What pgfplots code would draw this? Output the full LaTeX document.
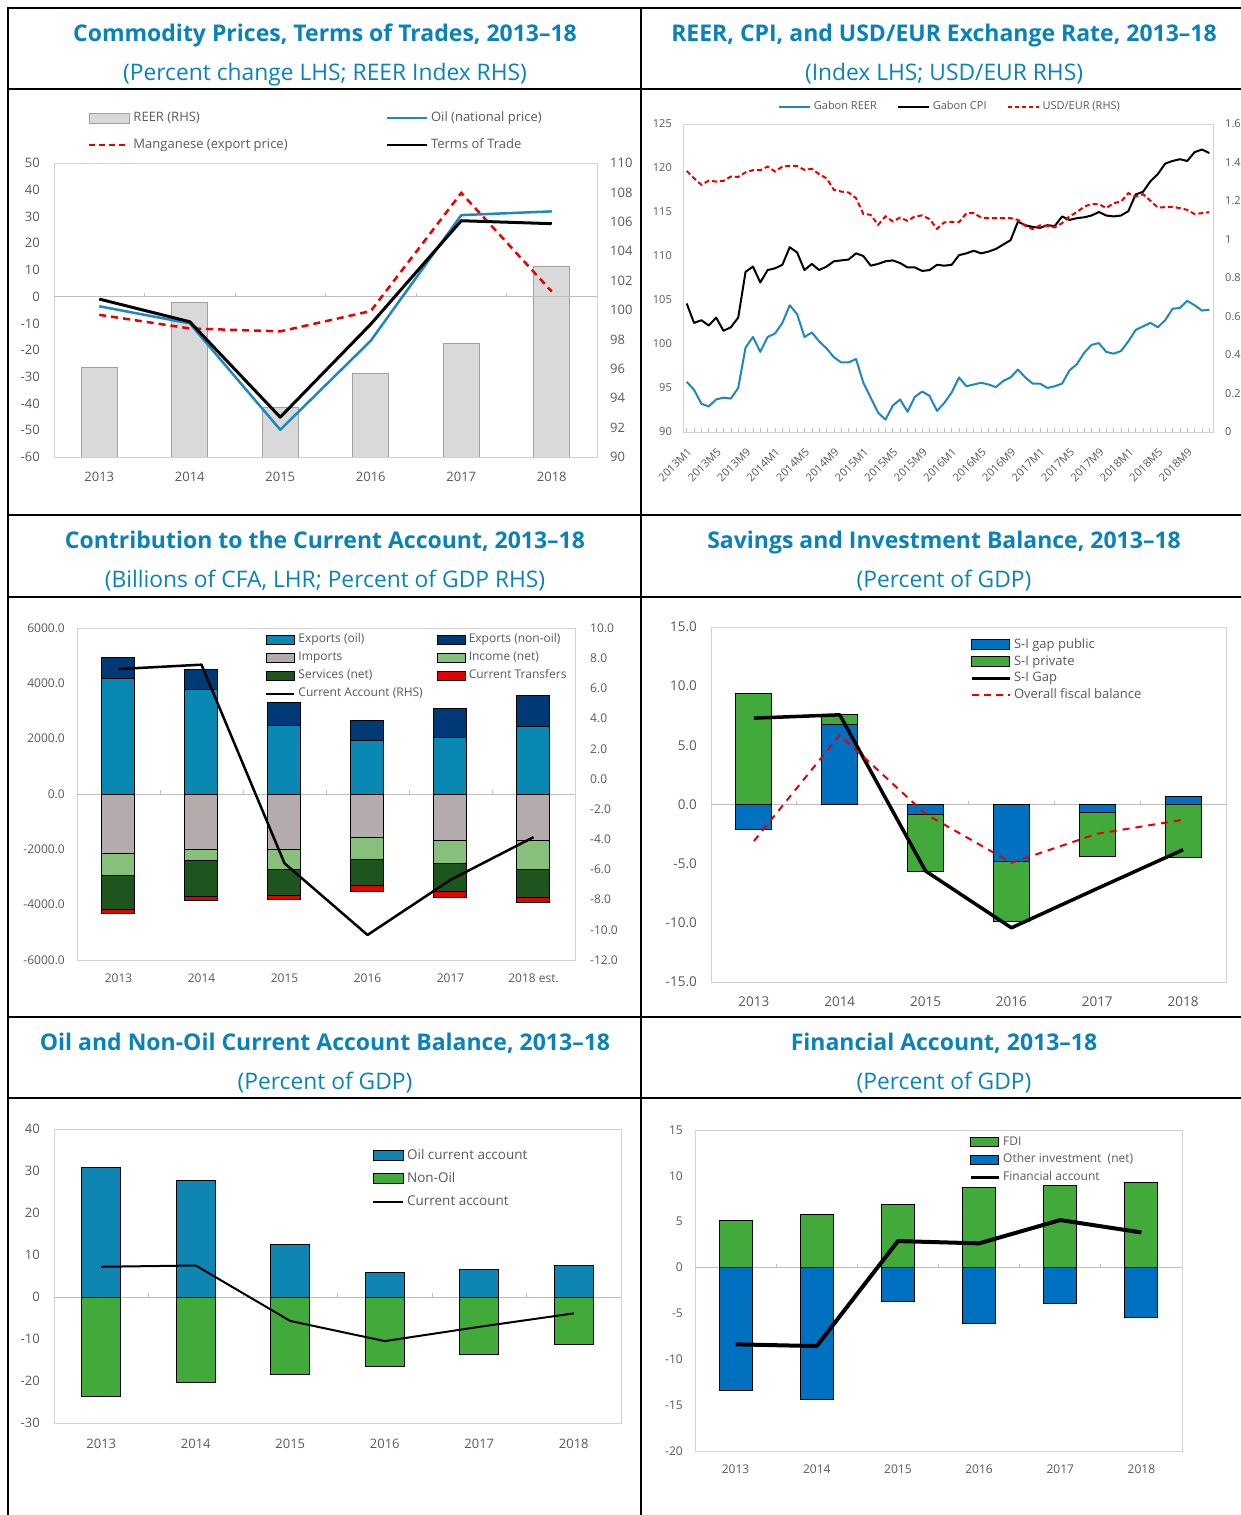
\documentclass[border=0pt]{standalone}
\usepackage{fontspec}
\setmainfont{Open Sans}
\usepackage{pgfplots}
\usepackage{pgfplotstable}
\pgfplotsset{compat=1.18}

\definecolor{titleblue}{RGB}{10,130,185}
\definecolor{tickgray}{RGB}{89,89,89}
\definecolor{boxgray}{RGB}{210,210,210}
\definecolor{zerogray}{RGB}{190,190,190}
\definecolor{reergray}{RGB}{217,217,217}
\definecolor{reeredge}{RGB}{160,160,160}
\definecolor{oilblue}{RGB}{30,135,190}
\definecolor{ddred}{RGB}{230,0,0}
\definecolor{expoil}{RGB}{10,136,180}
\definecolor{expnon}{RGB}{0,58,118}
\definecolor{impgray}{RGB}{180,172,172}
\definecolor{incgreen}{RGB}{134,192,122}
\definecolor{servgreen}{RGB}{30,84,30}
\definecolor{pubblue}{RGB}{0,112,192}
\definecolor{privgreen}{RGB}{66,170,58}
\definecolor{oilca}{RGB}{14,133,178}

\newcommand\fs[1]{\fontsize{#1pt}{#1pt}\selectfont}
\newcommand\legpatch[3]{\addlegendimage{legend image code/.code={\draw[#1] (0pt,-#3) rectangle (#2,#3);}}}
\newcommand\legline[2]{\addlegendimage{legend image code/.code={\draw[#1] (0pt,0pt) -- (#2,0pt);}}}

\pgfplotsset{
  panel/.style={scale only axis, anchor=north west, clip=true,
    /pgf/number format/assume math mode=true,
    tick label style={text=tickgray, inner sep=0pt},
    major tick length=0pt, minor tick length=0pt,
    xtick style={draw=none}, ytick style={draw=none},
    axis line style={draw=boxgray, line width=0.8pt},
    legend cell align=left},
  catx/.style={xmin=-0.5, xmax=5.5, xtick={0,1,2,3,4,5}},
  rhs/.style={axis y line*=right, hide x axis, axis line style={draw=none}},
}

\pgfplotstableread{
i reer cpi usd
0 95.7 104.6 1.356
1 94.8 102.4 1.318
2 93.2 102.7 1.284
3 92.9 102.1 1.306
4 93.7 103.0 1.301
5 93.9 101.5 1.305
6 93.8 101.9 1.327
7 95.0 103.0 1.325
8 99.6 108.2 1.349
9 100.8 108.8 1.360
10 99.1 107.0 1.360
11 100.8 108.4 1.379
12 101.2 108.6 1.353
13 102.4 109.0 1.379
14 104.4 111.0 1.382
15 103.4 110.4 1.382
16 100.8 108.4 1.362
17 101.3 109.1 1.367
18 100.3 108.4 1.339
19 99.5 108.8 1.318
20 98.5 109.4 1.258
21 97.9 109.5 1.249
22 97.9 109.6 1.244
23 98.3 110.3 1.215
24 95.6 110.0 1.133
25 93.9 108.9 1.128
26 92.2 109.1 1.076
27 91.4 109.4 1.120
28 93.0 109.5 1.094
29 93.7 109.2 1.114
30 92.3 108.7 1.097
31 94.0 108.7 1.120
32 94.6 108.3 1.125
33 94.1 108.4 1.106
34 92.4 109.0 1.056
35 93.3 108.9 1.089
36 94.5 109.0 1.092
37 96.2 110.1 1.090
38 95.2 110.3 1.137
39 95.4 110.6 1.137
40 95.6 110.3 1.114
41 95.4 110.5 1.111
42 95.1 110.8 1.111
43 95.8 111.3 1.111
44 96.2 111.8 1.111
45 97.1 113.9 1.102
46 96.2 113.5 1.071
47 95.5 113.3 1.054
48 95.5 113.2 1.073
49 95.0 113.5 1.071
50 95.2 113.4 1.063
51 95.5 114.5 1.085
52 97.0 114.1 1.120
53 97.7 114.3 1.142
54 99.0 114.4 1.171
55 99.9 114.6 1.184
56 100.1 115.0 1.184
57 99.1 114.6 1.163
58 98.9 114.5 1.189
59 99.2 114.6 1.197
60 100.3 115.1 1.241
61 101.6 117.0 1.223
62 102.0 117.3 1.235
63 102.4 118.5 1.201
64 101.9 119.3 1.166
65 102.7 120.5 1.168
66 104.0 120.8 1.170
67 104.1 121.0 1.163
68 104.9 120.8 1.154
69 104.4 121.8 1.132
70 103.8 122.1 1.137
71 103.9 121.7 1.142
}\monthly

\begin{document}
\begin{tikzpicture}
\useasboundingbox (0pt,0pt) rectangle (1241pt,-1515pt);

% ---------------- Titles ----------------
\begin{scope}[every node/.style={anchor=base, text=titleblue}]
\node[font=\bfseries\fs{23}] at (325pt,-41pt) {Commodity Prices, Terms of Trades, 2013–18};
\node[font=\fs{22.8}] at (325pt,-80pt) {(Percent change LHS; REER Index RHS)};
\node[font=\bfseries\fs{23}] at (944pt,-41pt) {REER, CPI, and USD/EUR Exchange Rate, 2013–18};
\node[font=\fs{22.8}] at (944pt,-80pt) {(Index LHS; USD/EUR RHS)};
\node[font=\bfseries\fs{23}] at (325pt,-548pt) {Contribution to the Current Account, 2013–18};
\node[font=\fs{22.8}] at (325pt,-587pt) {(Billions of CFA, LHR; Percent of GDP RHS)};
\node[font=\bfseries\fs{23}] at (944pt,-548pt) {Savings and Investment Balance, 2013–18};
\node[font=\fs{22.8}] at (944pt,-587pt) {(Percent of GDP)};
\node[font=\bfseries\fs{23}] at (325pt,-1050pt) {Oil and Non-Oil Current Account Balance, 2013–18};
\node[font=\fs{22.8}] at (325pt,-1089pt) {(Percent of GDP)};
\node[font=\bfseries\fs{23}] at (944pt,-1050pt) {Financial Account, 2013–18};
\node[font=\fs{22.8}] at (944pt,-1089pt) {(Percent of GDP)};
\end{scope}

% ---------------- Panel 1: commodity prices ----------------
\begin{axis}[panel, catx, rhs, at={(54pt,-163pt)}, width=543pt, height=294pt,
  ymin=90, ymax=110, ytick={90,92,94,96,98,100,102,104,106,108,110},
  yticklabels={90,92,94,96,98,100,102,104,106,108,110},
  yticklabel style={font=\fs{13}, xshift=13pt}]
\addplot[ybar, bar width=36pt, bar shift=0pt, fill=reergray, draw=reeredge, line width=0.8pt, forget plot]
  coordinates {(0,96.1) (1,100.5) (2,93.4) (3,95.7) (4,97.7) (5,103.0)};
\end{axis}
\begin{axis}[panel, catx, at={(54pt,-163pt)}, width=543pt, height=294pt,
  ymin=-60, ymax=50, ytick={-60,-50,-40,-30,-20,-10,0,10,20,30,40,50},
  yticklabels={-60,-50,-40,-30,-20,-10,0,10,20,30,40,50},
  yticklabel style={font=\fs{13}, xshift=-14pt},
  xticklabels={2013,2014,2015,2016,2017,2018},
  xticklabel style={font=\fs{13}, anchor=north, yshift=-15pt},
  legend columns=2,
  legend style={draw=none, fill=none, inner sep=0pt, outer sep=0pt, text=tickgray, font=\fs{13},
    at={(0.0626,1.175)}, anchor=north west, row sep=14pt,
    nodes={inner xsep=3pt, inner ysep=0pt, text height=10pt, text depth=3pt},
    /tikz/every even column/.append style={column sep=95pt}}]
\draw[zerogray, line width=0.8pt] (axis cs:-0.5,0) -- (axis cs:5.5,0);
\pgfplotsinvokeforeach{0.5,1.5,2.5,3.5,4.5}{\draw[zerogray, line width=0.8pt] (axis cs:#1,0) -- ++(0pt,4pt);}
\addplot[ddred, line width=2.5pt, dash pattern=on 7pt off 5pt, forget plot]
  coordinates {(0,-6.8) (1,-11.9) (2,-13.0) (3,-5.4) (4,38.8) (5,1.9)};
\addplot[oilblue, line width=2.5pt, line join=round, forget plot]
  coordinates {(0,-3.6) (1,-10.0) (2,-49.8) (3,-16.5) (4,30.5) (5,31.9)};
\addplot[black, line width=3pt, line join=round, forget plot]
  coordinates {(0,-0.9) (1,-9.4) (2,-45.1) (3,-10.3) (4,28.4) (5,27.3)};
\legpatch{fill=reergray, draw=reeredge, line width=0.8pt}{40pt}{5pt}\addlegendentry{REER (RHS)}
\legline{oilblue, line width=2.5pt}{40pt}\addlegendentry{Oil (national price)}
\legline{ddred, line width=2.5pt, dash pattern=on 6pt off 4pt}{40pt}\addlegendentry{Manganese (export price)}
\legline{black, line width=2.5pt}{40pt}\addlegendentry{Terms of Trade}
\end{axis}

% ---------------- Panel 2: REER, CPI, USD/EUR ----------------
\begin{axis}[panel, at={(683pt,-124pt)}, width=530pt, height=308pt,
  xmin=-0.5, xmax=71.5, ymin=90, ymax=125,
  ytick={90,95,100,105,110,115,120,125}, yticklabels={90,95,100,105,110,115,120,125},
  yticklabel style={font=\fs{11}, xshift=-11pt},
  xtick={0,4,...,68},
  xticklabels={2013M1,2013M5,2013M9,2014M1,2014M5,2014M9,2015M1,2015M5,2015M9,2016M1,2016M5,2016M9,2017M1,2017M5,2017M9,2018M1,2018M5,2018M9},
  minor xtick={0,1,...,71},
  xtick pos=left, tick align=inside, major tick length=4pt, minor tick length=4pt,
  xtick style={draw=zerogray, line width=0.6pt}, minor tick style={draw=zerogray, line width=0.6pt},
  xticklabel style={font=\fs{11}, xshift=3pt, yshift=-18pt, rotate=45, anchor=east}]
\addplot[oilblue, line width=2pt, line join=round, forget plot] table[x=i, y=reer] {\monthly};
\addplot[black, line width=2pt, line join=round, forget plot] table[x=i, y=cpi] {\monthly};
\end{axis}
\begin{axis}[panel, rhs, at={(683pt,-124pt)}, width=530pt, height=308pt,
  xmin=-0.5, xmax=71.5, ymin=0, ymax=1.6,
  ytick={0,0.2,0.4,0.6,0.8,1,1.2,1.4,1.6}, yticklabels={0,0.2,0.4,0.6,0.8,1,1.2,1.4,1.6},
  yticklabel style={font=\fs{11}, xshift=12pt},
  legend columns=3,
  legend style={draw=none, fill=none, inner sep=0pt, outer sep=0pt, text=tickgray, font=\fs{11},
    at={(0.179,1.055)}, anchor=west,
    nodes={inner xsep=3pt, inner ysep=0pt, text height=8pt, text depth=2.5pt},
    /tikz/every even column/.append style={column sep=17pt}}]
\addplot[ddred, line width=2pt, dash pattern=on 5pt off 3pt, forget plot] table[x=i, y=usd] {\monthly};
\legline{oilblue, line width=2pt}{31pt}\addlegendentry{Gabon REER}
\legline{black, line width=2pt}{31pt}\addlegendentry{Gabon CPI}
\legline{ddred, line width=2pt, dash pattern=on 4pt off 3pt}{31pt}\addlegendentry{USD/EUR (RHS)}
\end{axis}

% ---------------- Panel 3: contribution to CA ----------------
\begin{axis}[panel, catx, at={(77pt,-628pt)}, width=498pt, height=332pt,
  ymin=-6000, ymax=6000, ytick={-6000,-4000,-2000,0,2000,4000,6000},
  yticklabels={-6000.0,-4000.0,-2000.0,0.0,2000.0,4000.0,6000.0},
  yticklabel style={font=\fs{12}, xshift=-12pt},
  xticklabels={2013,2014,2015,2016,2017,2018 est.},
  xticklabel style={font=\fs{12}, anchor=north, yshift=-13.5pt}]
\draw[zerogray, line width=0.8pt] (axis cs:-0.5,0) -- (axis cs:5.5,0);
\pgfplotsinvokeforeach{0.5,1.5,2.5,3.5,4.5}{\draw[zerogray, line width=0.8pt] (axis cs:#1,0) -- ++(0pt,4pt);}
% positive stack: exports (non-oil) on top of exports (oil) -- cumulative tops
\addplot[ybar, bar width=33pt, bar shift=0pt, fill=expnon, draw=black, line width=1pt, forget plot]
  coordinates {(0,4945) (1,4510) (2,3317) (3,2641) (4,3099) (5,3558)};
\addplot[ybar, bar width=33pt, bar shift=0pt, fill=expoil, draw=black, line width=1pt, forget plot]
  coordinates {(0,4185) (1,3787) (2,2484) (3,1930) (4,2050) (5,2436)};
% negative stack: imports, income, services, transfers -- cumulative bottoms
\addplot[ybar, bar width=33pt, bar shift=0pt, fill=ddred, draw=black, line width=1pt, forget plot]
  coordinates {(0,-4317) (1,-3859) (2,-3799) (3,-3510) (4,-3727) (5,-3920)};
\addplot[ybar, bar width=33pt, bar shift=0pt, fill=servgreen, draw=black, line width=1pt, forget plot]
  coordinates {(0,-4173) (1,-3714) (2,-3654) (3,-3317) (4,-3534) (5,-3727)};
\addplot[ybar, bar width=33pt, bar shift=0pt, fill=incgreen, draw=black, line width=1pt, forget plot]
  coordinates {(0,-2943) (1,-2388) (2,-2713) (3,-2352) (4,-2520) (5,-2738)};
\addplot[ybar, bar width=33pt, bar shift=0pt, fill=impgray, draw=black, line width=1pt, forget plot]
  coordinates {(0,-2159) (1,-2002) (2,-2002) (3,-1580) (4,-1688) (5,-1688)};
\end{axis}
\begin{axis}[panel, catx, rhs, at={(77pt,-628pt)}, width=498pt, height=332pt,
  ymin=-12, ymax=10, ytick={-12,-10,-8,-6,-4,-2,0,2,4,6,8,10},
  yticklabels={-12.0,-10.0,-8.0,-6.0,-4.0,-2.0,0.0,2.0,4.0,6.0,8.0,10.0},
  yticklabel style={font=\fs{12}, xshift=15pt},
  legend columns=2,
  legend style={draw=none, fill=none, inner sep=0pt, outer sep=0pt, text=tickgray, font=\fs{12},
    at={(0.3775,0.982)}, anchor=north west, row sep=6pt,
    nodes={inner xsep=3pt, inner ysep=0pt, text height=9pt, text depth=3pt},
    /tikz/every even column/.append style={column sep=11pt}}]
\addplot[black, line width=2.5pt, line join=round, forget plot]
  coordinates {(0,7.28) (1,7.57) (2,-5.59) (3,-10.34) (4,-6.69) (5,-3.86)};
\legpatch{fill=expoil, draw=black, line width=1pt}{28pt}{4.5pt}\addlegendentry{Exports (oil)}
\legpatch{fill=expnon, draw=black, line width=1pt}{28pt}{4.5pt}\addlegendentry{Exports (non-oil)}
\legpatch{fill=impgray, draw=black, line width=1pt}{28pt}{4.5pt}\addlegendentry{Imports}
\legpatch{fill=incgreen, draw=black, line width=1pt}{28pt}{4.5pt}\addlegendentry{Income (net)}
\legpatch{fill=servgreen, draw=black, line width=1pt}{28pt}{4.5pt}\addlegendentry{Services (net)}
\legpatch{fill=ddred, draw=black, line width=1pt}{28pt}{4.5pt}\addlegendentry{Current Transfers}
\legline{black, line width=2.5pt}{28pt}\addlegendentry{Current Account (RHS)}
\end{axis}

% ---------------- Panel 4: S-I balance ----------------
\begin{axis}[panel, catx, at={(711pt,-627pt)}, width=515pt, height=355pt,
  ymin=-15, ymax=15, ytick={-15,-10,-5,0,5,10,15},
  yticklabels={-15.0,-10.0,-5.0,0.0,5.0,10.0,15.0},
  yticklabel style={font=\fs{13.5}, xshift=-14pt},
  xticklabels={2013,2014,2015,2016,2017,2018},
  xticklabel style={font=\fs{13.5}, anchor=north, yshift=-15pt},
  legend style={draw=none, fill=none, inner sep=0pt, outer sep=0pt, text=tickgray, font=\fs{13},
    at={(0.503,0.968)}, anchor=north west, row sep=3.7pt,
    nodes={inner xsep=3pt, inner ysep=0pt, text height=10pt, text depth=3pt}}]
\draw[zerogray, line width=0.8pt] (axis cs:-0.5,0) -- (axis cs:5.5,0);
\pgfplotsinvokeforeach{0.5,1.5,2.5,3.5,4.5}{\draw[zerogray, line width=0.8pt] (axis cs:#1,0) -- ++(0pt,4pt);}
% private S-I stacked beyond public S-I -- cumulative ends
\addplot[ybar, bar width=36pt, bar shift=0pt, fill=privgreen, draw=black, line width=1pt, forget plot]
  coordinates {(0,9.38) (1,7.58) (2,-5.62) (3,-9.86) (4,-4.38) (5,-4.52)};
\addplot[ybar, bar width=36pt, bar shift=0pt, fill=pubblue, draw=black, line width=1pt, forget plot]
  coordinates {(0,-2.13) (1,6.80) (2,-0.87) (3,-4.80) (4,-0.70) (5,0.67)};
\addplot[black, line width=3.5pt, line join=round, forget plot]
  coordinates {(0,7.30) (1,7.58) (2,-5.62) (3,-10.42) (4,-7.1) (5,-3.82)};
\addplot[ddred, line width=2pt, dash pattern=on 7pt off 6pt, forget plot]
  coordinates {(0,-3.09) (1,5.87) (2,-0.8) (3,-4.92) (4,-2.47) (5,-1.29)};
\legpatch{fill=pubblue, draw=black, line width=1pt}{38pt}{5pt}\addlegendentry{S-I gap public}
\legpatch{fill=privgreen, draw=black, line width=1pt}{38pt}{5pt}\addlegendentry{S-I private}
\legline{black, line width=3pt}{38pt}\addlegendentry{S-I Gap}
\legline{ddred, line width=2pt, dash pattern=on 7pt off 5pt}{38pt}\addlegendentry{Overall fiscal balance}
\end{axis}

% ---------------- Panel 5: oil / non-oil CA ----------------
\begin{axis}[panel, catx, at={(54pt,-1129pt)}, width=567pt, height=294pt,
  ymin=-30, ymax=40, ytick={-30,-20,-10,0,10,20,30,40},
  yticklabels={-30,-20,-10,0,10,20,30,40},
  yticklabel style={font=\fs{13}, xshift=-14pt},
  xticklabels={2013,2014,2015,2016,2017,2018},
  xticklabel style={font=\fs{13}, anchor=north, yshift=-16pt},
  legend style={draw=none, fill=none, inner sep=0pt, outer sep=0pt, text=tickgray, font=\fs{13.5},
    at={(0.561,0.932)}, anchor=north west, row sep=9.5pt,
    nodes={inner xsep=3pt, inner ysep=0pt, text height=10pt, text depth=3.5pt}}]
\draw[zerogray, line width=0.8pt] (axis cs:-0.5,0) -- (axis cs:5.5,0);
\pgfplotsinvokeforeach{0.5,1.5,2.5,3.5,4.5}{\draw[zerogray, line width=0.8pt] (axis cs:#1,0) -- ++(0pt,4pt);}
\addplot[ybar, bar width=39pt, bar shift=0pt, fill=oilca, draw=black, line width=1pt, forget plot]
  coordinates {(0,30.9) (1,27.8) (2,12.6) (3,5.9) (4,6.6) (5,7.4)};
\addplot[ybar, bar width=39pt, bar shift=0pt, fill=privgreen, draw=black, line width=1pt, forget plot]
  coordinates {(0,-23.8) (1,-20.4) (2,-18.5) (3,-16.5) (4,-13.8) (5,-11.4)};
\addplot[black, line width=2pt, line join=round, forget plot]
  coordinates {(0,7.2) (1,7.5) (2,-5.7) (3,-10.5) (4,-7.1) (5,-3.9)};
\legpatch{fill=oilca, draw=black, line width=1pt}{30pt}{5pt}\addlegendentry{Oil current account}
\legpatch{fill=privgreen, draw=black, line width=1pt}{30pt}{5pt}\addlegendentry{Non-Oil}
\legline{black, line width=2pt}{30pt}\addlegendentry{Current account}
\end{axis}

% ---------------- Panel 6: financial account ----------------
\begin{axis}[panel, catx, at={(695pt,-1130pt)}, width=487pt, height=321pt,
  ymin=-20, ymax=15, ytick={-20,-15,-10,-5,0,5,10,15},
  yticklabels={-20,-15,-10,-5,0,5,10,15},
  yticklabel style={font=\fs{12}, xshift=-12pt},
  xticklabels={2013,2014,2015,2016,2017,2018},
  xticklabel style={font=\fs{12}, anchor=north, yshift=-13.5pt},
  legend style={draw=none, fill=none, inner sep=0pt, outer sep=0pt, text=tickgray, font=\fs{12},
    at={(0.563,0.981)}, anchor=north west, row sep=5.5pt,
    nodes={inner xsep=3pt, inner ysep=0pt, text height=9pt, text depth=3pt}}]
\draw[zerogray, line width=0.8pt] (axis cs:-0.5,0) -- (axis cs:5.5,0);
\pgfplotsinvokeforeach{0.5,1.5,2.5,3.5,4.5}{\draw[zerogray, line width=0.8pt] (axis cs:#1,0) -- ++(0pt,4pt);}
\addplot[ybar, bar width=33pt, bar shift=0pt, fill=privgreen, draw=black, line width=1pt, forget plot]
  coordinates {(0,5.1) (1,5.76) (2,6.86) (3,8.75) (4,9.0) (5,9.25)};
\addplot[ybar, bar width=33pt, bar shift=0pt, fill=pubblue, draw=black, line width=1pt, forget plot]
  coordinates {(0,-13.36) (1,-14.34) (2,-3.72) (3,-6.13) (4,-3.94) (5,-5.43)};
\addplot[black, line width=4pt, line join=round, forget plot]
  coordinates {(0,-8.37) (1,-8.56) (2,2.89) (3,2.64) (4,5.18) (5,3.83)};
\legpatch{fill=privgreen, draw=black, line width=1pt}{28pt}{4.5pt}\addlegendentry{FDI}
\legpatch{fill=pubblue, draw=black, line width=1pt}{28pt}{4.5pt}\addlegendentry{Other investment\ \ (net)}
\legline{black, line width=3pt}{28pt}\addlegendentry{Financial account}
\end{axis}

% ---------------- Table rules ----------------
\begin{scope}[line width=2.6pt, line cap=rect]
\foreach \yy in {8,89,515,597,1017,1098}{\draw (8pt,-\yy pt) -- (1245pt,-\yy pt);}
\draw (8pt,-8pt) -- (8pt,-1520pt);
\draw (641pt,-8pt) -- (641pt,-1520pt);
\end{scope}
\end{tikzpicture}
\end{document}
